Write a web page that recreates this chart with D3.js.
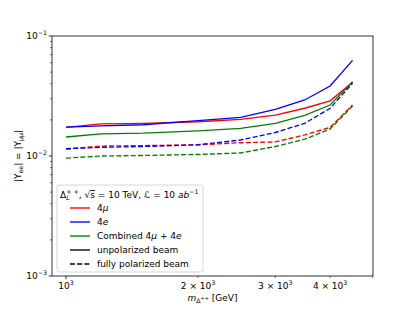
<!DOCTYPE html>
<html><head><meta charset="utf-8">
<script src="https://cdn.jsdelivr.net/npm/d3@7"></script>
<style>
body{margin:0;background:#fff;}
svg text{font-family:"DejaVu Sans",sans-serif;fill:#000;}
</style></head>
<body><svg id="c" width="415" height="311"></svg>
<script>
const masses = [1000,1200,1500,2000,2500,3000,3500,4000,4500];
const mu4Unpol  = [0.0173,0.0185,0.0187,0.0193,0.0202,0.0219,0.0250,0.0288,0.0411];
const e4Unpol   = [0.0174,0.0178,0.0182,0.0197,0.0210,0.0245,0.0293,0.0383,0.0627];
const combUnpol = [0.0144,0.0153,0.0155,0.0162,0.0170,0.0187,0.0218,0.0266,0.0416];
const mu4Pol    = [0.0114,0.0121,0.0122,0.0124,0.0129,0.0131,0.0150,0.0173,0.0266];
const e4Pol     = [0.0115,0.0118,0.0120,0.0124,0.0136,0.0157,0.0187,0.0250,0.0404];
const combPol   = [0.0096,0.0100,0.0101,0.0103,0.0106,0.0120,0.0138,0.0168,0.0261];
const xDomain = [929, 5010];
const yDomain = [1e-3, 1e-1];
const xTicks = [1000,2000,3000,4000];
const yMajor = [1e-3,1e-2,1e-1];

const svg = d3.select("#c");
const L=52,R=373,T=36,B=276;
const x = d3.scaleLog().domain(xDomain).range([L,R]);
const y = d3.scaleLog().domain(yDomain).range([B,T]);

svg.append("rect").attr("x",L).attr("y",T).attr("width",R-L).attr("height",B-T)
  .attr("fill","none").attr("stroke","#000").attr("stroke-width",0.8);

const yMinor=[];
for(let e=-3;e<-1;e++) for(let m=2;m<=9;m++) yMinor.push(m*Math.pow(10,e));
const ga = svg.append("g");
yMinor.forEach(v=>ga.append("line").attr("x1",L).attr("x2",L-1.8).attr("y1",y(v)).attr("y2",y(v)).attr("stroke","#000").attr("stroke-width",0.6));
yMajor.forEach(v=>{
  ga.append("line").attr("x1",L).attr("x2",L-3.2).attr("y1",y(v)).attr("y2",y(v)).attr("stroke","#000").attr("stroke-width",0.8);
  const t=ga.append("text").attr("x",L-5).attr("y",y(v)+3.2).attr("text-anchor","end").attr("font-size",9);
  t.append("tspan").text("10");
  t.append("tspan").attr("dy",-4).attr("font-size",6.3).text("\u2212"+Math.round(-Math.log10(v)));
});
const xMinorAll=[];
for(let m=1;m<=9;m++){const v=m*1000; if(v>=xDomain[0]&&v<=xDomain[1]) xMinorAll.push(v);}
xMinorAll.forEach(v=>{
  const major = v===1000;
  ga.append("line").attr("x1",x(v)).attr("x2",x(v)).attr("y1",B).attr("y2",B+(major?3.2:1.8)).attr("stroke","#000").attr("stroke-width",major?0.8:0.6);
});
xTicks.forEach(v=>{
  const t=ga.append("text").attr("x",x(v)).attr("y",B+13).attr("text-anchor","middle").attr("font-size",9);
  if(v===1000){ t.append("tspan").text("10"); }
  else { t.append("tspan").text((v/1000)+" \u00d7 10"); }
  t.append("tspan").attr("dy",-4).attr("font-size",6.3).text("3");
});

const xl = svg.append("text").attr("x",(L+R)/2).attr("y",301).attr("text-anchor","middle").attr("font-size",9);
xl.append("tspan").attr("font-style","italic").text("m");
xl.append("tspan").attr("dy",2).attr("font-size",6.3).text("\u0394");
xl.append("tspan").attr("dy",-3).attr("font-size",5).text("++");
xl.append("tspan").attr("dy",1).text(" [GeV]");

const yl = svg.append("text").attr("transform",`translate(21,${(T+B)/2}) rotate(-90)`).attr("text-anchor","middle").attr("font-size",9);
yl.append("tspan").text("|Y");
yl.append("tspan").attr("dy",2).attr("font-size",6.3).text("ee");
yl.append("tspan").attr("dy",-2).text("| = |Y");
yl.append("tspan").attr("dy",2).attr("font-size",6.3).text("\u03bc\u03bc");
yl.append("tspan").attr("dy",-2).text("|");

const line = d3.line().x((d,i)=>x(masses[i])).y(d=>y(d));
const series = [
  {v:mu4Unpol,c:"#ff0000",dash:null},
  {v:e4Unpol,c:"#0000ff",dash:null},
  {v:combUnpol,c:"#008000",dash:null},
  {v:mu4Pol,c:"#ff0000",dash:"5,2.2"},
  {v:e4Pol,c:"#0000ff",dash:"5,2.2"},
  {v:combPol,c:"#008000",dash:"5,2.2"},
];
series.forEach(s=>{
  svg.append("path").attr("d",line(s.v)).attr("fill","none").attr("stroke",s.c)
    .attr("stroke-width",1.35).attr("stroke-dasharray",s.dash);
});

const lg = svg.append("g");
lg.append("rect").attr("x",57).attr("y",185).attr("width",146).attr("height",87).attr("rx",2)
  .attr("fill","#fff").attr("fill-opacity",0.8).attr("stroke","#ccc").attr("stroke-width",0.8);
const tt = lg.append("text").attr("x",60).attr("y",198).attr("font-size",9);
tt.append("tspan").text("\u0394");
tt.append("tspan").attr("dy",2).attr("font-size",6.3).attr("font-style","italic").text("L");
tt.append("tspan").attr("dy",-6).attr("dx",-3.5).attr("font-size",6.3).text("+ +");
tt.append("tspan").attr("dy",4).text(", \u221a");
tt.append("tspan").attr("style","text-decoration:overline").text("s");
tt.append("tspan").text(" = 10 TeV, ");
tt.append("tspan").attr("font-style","italic").text("\u2112");
tt.append("tspan").text(" = 10 ");
tt.append("tspan").attr("font-style","italic").text("ab");
tt.append("tspan").attr("dy",-4).attr("font-size",6.3).text("\u22121");
const entries = [
  {c:"#ff0000",d:null,t:[["4",""],["\u03bc","i"]]},
  {c:"#0000ff",d:null,t:[["4",""],["e","i"]]},
  {c:"#008000",d:null,t:[["Combined 4",""],["\u03bc","i"],[" + 4",""],["e","i"]]},
  {c:"#000",d:null,t:[["unpolarized beam",""]]},
  {c:"#000",d:"5,2.2",t:[["fully polarized beam",""]]},
];
entries.forEach((e,i)=>{
  const yy = 208+i*14;
  lg.append("line").attr("x1",70).attr("x2",90).attr("y1",yy).attr("y2",yy)
    .attr("stroke",e.c).attr("stroke-width",1.35).attr("stroke-dasharray",e.d);
  const t = lg.append("text").attr("x",97).attr("y",yy+3.2).attr("font-size",9);
  e.t.forEach(p=>t.append("tspan").attr("font-style",p[1]?"italic":null).text(p[0]));
});
</script></body></html>
